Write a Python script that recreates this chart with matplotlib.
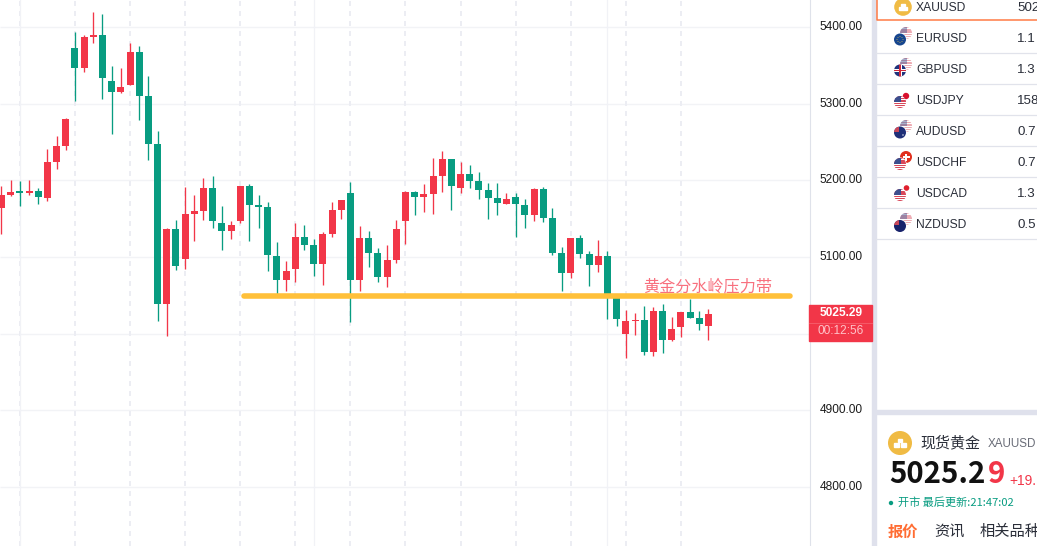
import matplotlib
matplotlib.use('Agg')
import matplotlib.pyplot as plt
from matplotlib.patches import Circle, Rectangle

plt.rcParams['font.family'] = ['Liberation Sans', 'Noto Sans CJK SC', 'DejaVu Sans']

# candles, oldest first
opens = [5164.1, 5181.1, 5186.3, 5183.7, 5186.3, 5177.2, 5224.2, 5245.1, 5373.0, 5346.9,
         5387.4, 5390.0, 5329.9, 5315.6, 5324.7, 5367.8, 5310.4, 5247.7, 5038.8, 5136.7,
         5097.5, 5156.3, 5160.2, 5190.2, 5144.5, 5134.1, 5147.2, 5192.9, 5168.1, 5165.4,
         5101.5, 5070.1, 5084.5, 5126.3, 5115.8, 5091.0, 5130.2, 5161.5, 5183.7, 5070.1,
         5125.0, 5105.4, 5074.0, 5096.2, 5147.2, 5185.0, 5178.5, 5182.4, 5205.9, 5228.1,
         5190.2, 5208.5, 5199.4, 5187.6, 5177.2, 5169.4, 5178.5, 5168.1, 5155.0, 5188.9,
         5151.1, 5105.4, 5079.3, 5125.0, 5104.1, 5089.7, 5101.5, 5050.5, 4999.6, 5016.6,
         5017.9, 4976.1, 5029.7, 4991.8, 5008.8, 5028.4, 5020.5, 5010.1]
highs = [5192.9, 5200.7, 5199.4, 5200.7, 5190.2, 5241.2, 5258.1, 5281.6, 5393.9, 5390.0,
         5420.0, 5417.4, 5349.5, 5346.9, 5379.6, 5375.6, 5336.5, 5264.7, 5138.0, 5148.5,
         5191.6, 5181.1, 5203.3, 5205.9, 5166.8, 5147.2, 5192.9, 5195.5, 5181.1, 5172.0,
         5119.7, 5094.9, 5144.5, 5141.9, 5123.7, 5132.8, 5172.0, 5174.6, 5198.1, 5140.6,
         5134.1, 5111.9, 5115.8, 5148.5, 5186.3, 5186.3, 5195.5, 5229.4, 5238.6, 5228.1,
         5224.2, 5220.3, 5211.1, 5196.8, 5196.8, 5183.7, 5183.7, 5175.9, 5190.2, 5191.6,
         5164.1, 5113.2, 5125.0, 5128.9, 5108.0, 5122.4, 5108.0, 5051.9, 5031.0, 5027.0,
         5036.2, 5034.9, 5038.8, 5021.8, 5028.4, 5045.3, 5029.7, 5032.3]
lows = [5130.2, 5179.8, 5166.8, 5181.1, 5169.4, 5173.3, 5215.0, 5239.9, 5303.8, 5341.7,
        5379.6, 5306.4, 5260.8, 5314.3, 5324.7, 5279.0, 5226.8, 5016.6, 4997.0, 5083.2,
        5084.5, 5121.0, 5148.5, 5138.0, 5109.3, 5123.7, 5144.5, 5121.0, 5138.0, 5081.9,
        5051.9, 5055.8, 5067.5, 5109.3, 5075.4, 5063.6, 5126.3, 5149.8, 5015.3, 5055.8,
        5087.1, 5067.5, 5061.0, 5092.3, 5117.1, 5155.0, 5158.9, 5156.3, 5185.0, 5161.5,
        5183.7, 5190.2, 5175.9, 5149.8, 5155.0, 5169.4, 5126.3, 5138.0, 5147.2, 5145.9,
        5102.8, 5055.8, 5072.7, 5098.9, 5062.3, 5080.6, 5019.2, 5010.1, 4968.3, 4998.3,
        4972.2, 4970.9, 4974.8, 4990.5, 4995.7, 5020.5, 5004.9, 4991.8]
closes = [5181.1, 5185.0, 5183.7, 5186.3, 5178.5, 5224.2, 5245.1, 5280.3, 5346.9, 5387.4,
          5390.0, 5333.9, 5315.6, 5322.1, 5367.8, 5310.4, 5247.7, 5038.8, 5136.7, 5088.4,
          5156.3, 5160.2, 5190.2, 5147.2, 5134.1, 5141.9, 5192.9, 5168.1, 5165.4, 5102.8,
          5070.1, 5081.9, 5126.3, 5115.8, 5091.0, 5130.2, 5161.5, 5174.6, 5070.1, 5125.0,
          5105.4, 5074.0, 5096.2, 5136.7, 5185.0, 5178.5, 5182.4, 5205.9, 5228.1, 5192.9,
          5208.5, 5199.4, 5187.6, 5177.2, 5170.7, 5175.9, 5169.4, 5155.0, 5188.9, 5151.1,
          5105.4, 5079.3, 5125.0, 5104.1, 5089.7, 5101.5, 5050.5, 5019.2, 5016.6, 5017.9,
          4976.1, 5029.7, 4991.8, 5006.2, 5028.4, 5020.5, 5012.7, 5025.29]

price_ticks = [4800, 4900, 5000, 5100, 5200, 5300, 5400]
price_labels = ['4800.00', '4900.00', '', '5100.00', '5200.00', '5300.00', '5400.00']
dashed_idx = [2, 8, 14, 20, 26, 32, 38, 44, 50, 56, 62, 68, 74]
solid_idx = [2, 34, 66]

zone_price = 5049.2
zone_start, zone_end = 26.4, 85.9
zone_label = '黄金分水岭压力带'

symbols = ['XAUUSD', 'EURUSD', 'GBPUSD', 'USDJPY', 'AUDUSD', 'USDCHF', 'USDCAD', 'NZDUSD']
quotes = ['502', '1.1', '1.3', '158', '0.7', '0.7', '1.3', '0.5']

RED = '#f23648'
GREEN = '#089c81'
W, H = 1037, 546

fig = plt.figure(figsize=(W / 100, H / 100), dpi=100, facecolor='white')

############### chart
ax = fig.add_axes([0, 0, 809.5 / W, 1])
ax.set_xlim(-0.163, 88.0)
ax.set_ylim(4722.8, 5435.6)
for s in ['top', 'left', 'bottom']:
    ax.spines[s].set_visible(False)
ax.spines['right'].set_color('#dfe2ea')
ax.spines['right'].set_linewidth(0.8)
ax.set_xticks([])
ax.yaxis.tick_right()
ax.set_yticks(price_ticks)
ax.set_yticklabels(price_labels, fontsize=8.6, color='#1c1c1c', va='center')
ax.tick_params(axis='y', length=0, pad=7.5)
ax.hlines(price_ticks, -0.163, 88.0, color='#f2f3f6', lw=1.0, zorder=1)

for i in dashed_idx:
    ax.axvline(i, color='#ecedf3', lw=1.44, dashes=(2.5, 2.5), zorder=1)
for i in solid_idx:
    ax.axvline(i, color='#f1f2f6', lw=0.9, zorder=1)

idx = list(range(len(opens)))
colors = [RED if c >= o else GREEN for o, c in zip(opens, closes)]
ax.vlines(idx, lows, highs, colors=colors, lw=0.95, zorder=2)
bottoms = [min(o, c) for o, c in zip(opens, closes)]
heights = [max(abs(c - o), 1.0) for o, c in zip(opens, closes)]
ax.bar(idx, heights, bottom=bottoms, width=0.76, color=colors, linewidth=0, zorder=3)

ax.plot([zone_start, zone_end], [zone_price, zone_price], color='#ffc03a', lw=4.0,
        solid_capstyle='round', zorder=4)
ax.text(76.95, zone_price + 12.5, zone_label, color='#f8707e', fontsize=11.6,
        ha='center', va='center', zorder=5, family=['Noto Sans CJK SC', 'DejaVu Sans'])

############### side panel, pixel coordinates
ov = fig.add_axes([0, 0, 1, 1])
ov.set_xlim(0, W)
ov.set_ylim(H, 0)
ov.axis('off')
ov.patch.set_alpha(0)

CJK = ['Noto Sans CJK SC', 'DejaVu Sans']


def disc(cx, cy, r, color, alpha=1.0):
    c = Circle((cx, cy), r, facecolor=color, edgecolor='none', alpha=alpha, zorder=6)
    ov.add_patch(c)
    return c


def clipped_rect(c, x, y, w, h, color, alpha=1.0):
    r = Rectangle((x, y), w, h, facecolor=color, edgecolor='none', alpha=alpha, zorder=6)
    ov.add_patch(r)
    r.set_clip_path(c)


def us_flag(cx, cy, alpha=1.0):
    c = disc(cx, cy, 6, 'white')
    for k in range(0, 6):
        clipped_rect(c, cx - 6, cy - 6 + k * 2.2, 12, 1.3, '#d8485a', alpha)
    clipped_rect(c, cx - 6, cy - 6, 6.5, 5.5, '#3c4f8e', alpha)


def gold_icon(cx, cy, r, s):
    disc(cx, cy, r, '#f0bb44')
    ov.add_patch(Rectangle((cx - s * 0.5, cy - s), s, s * 0.8, color='white', zorder=7))
    ov.add_patch(Rectangle((cx - s * 1.3, cy + s * 0.05), s * 1.15, s * 0.8, color='white', zorder=7))
    ov.add_patch(Rectangle((cx + s * 0.15, cy + s * 0.05), s * 1.15, s * 0.8, color='white', zorder=7))


# panel frame
ov.add_patch(Rectangle((872, 0), 4, H, color='#dfe1ec', zorder=5))
ov.add_patch(Rectangle((876, 410), W - 876, 4, color='#dfe1ec', zorder=5))
ov.add_patch(Rectangle((876, 0), W - 876, 410, color='white', zorder=4))
ov.add_patch(Rectangle((876, 414), W - 876, H - 414, color='white', zorder=4))
ov.plot([876.5, 876.5, W], [0, 20, 20], color='#ff7a45', lw=1.1, zorder=6)

row_y = [7, 38, 69, 100, 131, 162, 193, 224]
for y, sym, q in zip(row_y, symbols, quotes):
    ov.text(916, y + 0.8, sym, fontsize=8.7, color='#2a2e39', va='center', zorder=6)
    ov.text(1017, y + 0.8, q, fontsize=9.6, color='#2a2e39', va='center', zorder=6)
    if sym != 'XAUUSD':
        ov.plot([876, W], [y + 14.5, y + 14.5], color='#e1e3eb', lw=0.9, zorder=5)

gold_icon(903, 7, 8.8, 3.2)

# EUR
us_flag(906, 33, 0.45)
disc(900, 39.5, 6.6, 'white')
disc(900, 39.5, 6, '#17468f')
for dx, dy in [(-3, 0), (3, 0), (0, -3), (0, 3), (-2, -2), (2, -2), (-2, 2), (2, 2)]:
    disc(900 + dx, 39.5 + dy, 0.45, '#e8c64a')
# GBP
us_flag(906, 64, 0.45)
disc(900, 70.5, 6.6, 'white')
c = disc(900, 70.5, 6, '#20337d')
clipped_rect(c, 894, 69, 12, 3, 'white')
clipped_rect(c, 898.5, 64, 3, 13, 'white')
clipped_rect(c, 894, 69.8, 12, 1.4, '#d0283c')
clipped_rect(c, 899.3, 64, 1.4, 13, '#d0283c')
# JPY
disc(906, 96, 5.5, 'white')
disc(906, 96, 3.2, '#d8102e')
us_flag(900, 102)
# AUD
us_flag(906, 126, 0.45)
disc(900, 132.5, 6.6, 'white')
c = disc(900, 132.5, 6, '#1f2f78')
clipped_rect(c, 894, 127, 5, 5, '#c9475a')
disc(903, 135, 0.7, 'white')
# CHF
c = disc(906, 157, 6, '#e1301e')
clipped_rect(c, 905, 153.5, 2, 7, 'white')
clipped_rect(c, 902.5, 156, 7, 2, 'white')
disc(900, 164, 6.6, 'white')
us_flag(900, 164)
# CAD
disc(906, 188, 5.5, 'white')
disc(906.5, 188, 2.8, '#e0202e')
disc(900, 195, 6.6, 'white')
us_flag(900, 195)
# NZD
us_flag(906, 219, 0.45)
disc(900, 226, 6.6, 'white')
c = disc(900, 226, 6, '#17226b')
clipped_rect(c, 894, 220, 5, 5, '#c9475a')

# last price box
ov.add_patch(Rectangle((809, 305), 63, 36, color=RED, zorder=6))
ov.plot([809, 872], [323, 323], color='#f6606e', lw=0.6, zorder=7)
ov.text(841, 313.5, '5025.29', fontsize=8.6, color='white', ha='center', va='center',
        zorder=8, fontweight='bold')
ov.text(841, 331.5, '00:12:56', fontsize=8.6, color='#ffc2c8', ha='center', va='center', zorder=8)

# quote card
gold_icon(900, 443, 12, 4.3)
ov.text(920, 443, '现货黄金', fontsize=10.8, color='#2a2e39', va='center', family=CJK, zorder=6)
ov.text(988, 444, 'XAUUSD', fontsize=8.4, color='#6a6d78', va='center', zorder=6)
ov.text(889, 474, '5025.2', fontsize=21.2, color='#111111', va='center', fontweight='bold',
        zorder=6, family=CJK)
ov.text(987.5, 474, '9', fontsize=21.2, color=RED, va='center', fontweight='bold',
        zorder=6, family=CJK)
ov.text(1009, 481, '+19.', fontsize=10, color=RED, va='center', zorder=6)
disc(891, 503, 2.2, GREEN)
ov.text(898, 503, '开市 最后更新:21:47:02', fontsize=8, color=GREEN, va='center', family=CJK, zorder=6)
ov.text(888, 531.5, '报价', fontsize=11, color='#ff6d33', va='center', fontweight='bold', family=CJK, zorder=6)
ov.text(934, 531.5, '资讯', fontsize=11, color='#2a2e39', va='center', family=CJK, zorder=6)
ov.text(980, 531.5, '相关品种', fontsize=11, color='#2a2e39', va='center', family=CJK, zorder=6)

fig.savefig('out.png', dpi=100)
